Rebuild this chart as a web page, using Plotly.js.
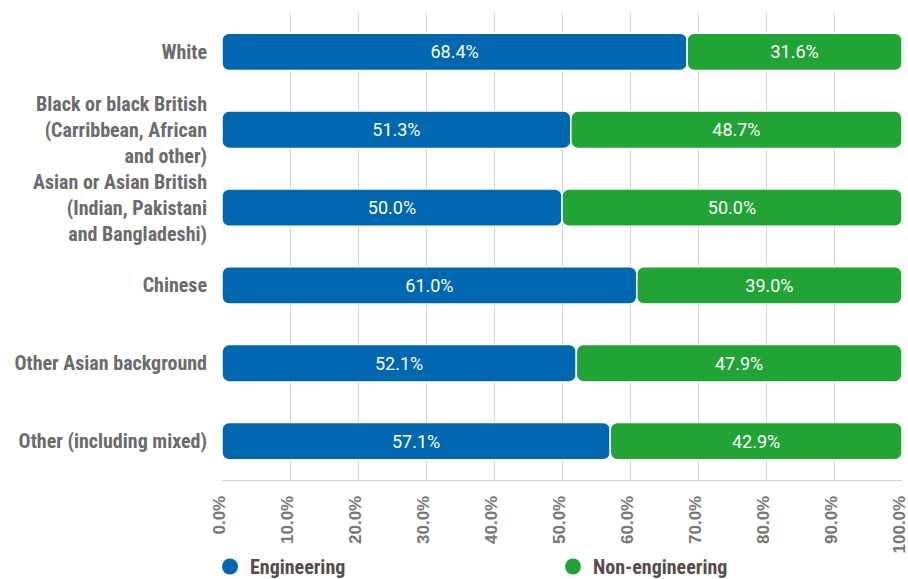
<!DOCTYPE html>
<html><head><meta charset="utf-8">
<script src="https://cdn.plot.ly/plotly-3.0.1.min.js"></script>
<style>body{margin:0;background:#fff}#chart{width:908px;height:579px}</style>
</head><body><div id="chart"></div>
<script>
const categories = [
  "White",
  "Black or black British<br>(Carribbean, African<br>and other)",
  "Asian or Asian British<br>(Indian, Pakistani<br>and Bangladeshi)",
  "Chinese",
  "Other Asian background",
  "Other (including mixed)"
];
const engineering = [68.4, 51.3, 50.0, 61.0, 52.1, 57.1];
const nonEngineering = [31.6, 48.7, 50.0, 39.0, 47.9, 42.9];
const tickVals = [0,10,20,30,40,50,60,70,80,90,100];
const tickText = ["0.0%","10.0%","20.0%","30.0%","40.0%","50.0%","60.0%","70.0%","80.0%","90.0%","100.0%"];
const seriesNames = ["Engineering", "Non-engineering"];
const seriesColors = ["#0067b1", "#21a336"];

const narrow = "'Liberation Sans Narrow', 'Roboto Condensed', Roboto, Arial, sans-serif";
const wide = "'Liberation Sans', Arial, sans-serif";
const barFont = {family: "Roboto, Arial, sans-serif", size: 18, color: "#ffffff"};

const traces = [
  {
    type: "bar", orientation: "h", name: seriesNames[0], showlegend: false,
    y: categories, x: engineering, base: engineering.map(() => 0),
    marker: {color: seriesColors[0], cornerradius: 7, line: {color: "#ffffff", width: 1.5}},
    text: engineering.map(v => v.toFixed(1) + "%"),
    textposition: "inside", insidetextanchor: "middle", textfont: barFont,
    hoverinfo: "none"
  },
  {
    type: "bar", orientation: "h", name: seriesNames[1], showlegend: false,
    y: categories, x: nonEngineering, base: engineering,
    marker: {color: seriesColors[1], cornerradius: 7, line: {color: "#ffffff", width: 1.5}},
    text: nonEngineering.map(v => v.toFixed(1) + "%"),
    textposition: "inside", insidetextanchor: "middle", textfont: barFont,
    hoverinfo: "none"
  },
  {
    type: "scatter", mode: "markers", name: seriesNames[0], x: [null], y: [null],
    legend: "legend",
    marker: {symbol: "circle", size: 20, color: seriesColors[0]}, hoverinfo: "none"
  },
  {
    type: "scatter", mode: "markers", name: seriesNames[1], x: [null], y: [null],
    legend: "legend2",
    marker: {symbol: "circle", size: 20, color: seriesColors[1]}, hoverinfo: "none"
  }
];

const legendFont = {family: narrow, size: 20, color: "#574c4c", weight: "bold"};
const layout = {
  width: 908, height: 579,
  margin: {l: 222, r: 6, t: 13, b: 99},
  barmode: "overlay",
  bargap: 0.52,
  paper_bgcolor: "#ffffff", plot_bgcolor: "#ffffff",
  showlegend: true,
  legend: {
    orientation: "h", xref: "container", yref: "container",
    x: 210 / 908, xanchor: "left", y: 1 - 547 / 579, yanchor: "top",
    font: legendFont, itemsizing: "trace"
  },
  legend2: {
    orientation: "h", xref: "container", yref: "container",
    x: 553 / 908, xanchor: "left", y: 1 - 547 / 579, yanchor: "top",
    font: legendFont, itemsizing: "trace"
  },
  xaxis: {
    range: [0, 100], tickvals: tickVals, ticktext: tickText,
    tickangle: -90, showgrid: true, gridcolor: "#d3d3d3", gridwidth: 1,
    zeroline: false, showline: true, linecolor: "#d0d0d0",
    tickfont: {family: wide, size: 17, color: "#777777", weight: "bold"},
    ticklabeloverflow: "allow", ticks: "", ticklabelstandoff: 8,
    ticklabelshift: -3
  },
  yaxis: {
    autorange: "reversed", type: "category",
    showgrid: false, zeroline: false, showline: false, ticks: "",
    ticklabelstandoff: 14,
    tickfont: {family: narrow, size: 20, color: "#6b6b6b", weight: "bold"}
  }
};

Plotly.newPlot("chart", traces, layout, {displayModeBar: false, staticPlot: true});
</script>
</body></html>
